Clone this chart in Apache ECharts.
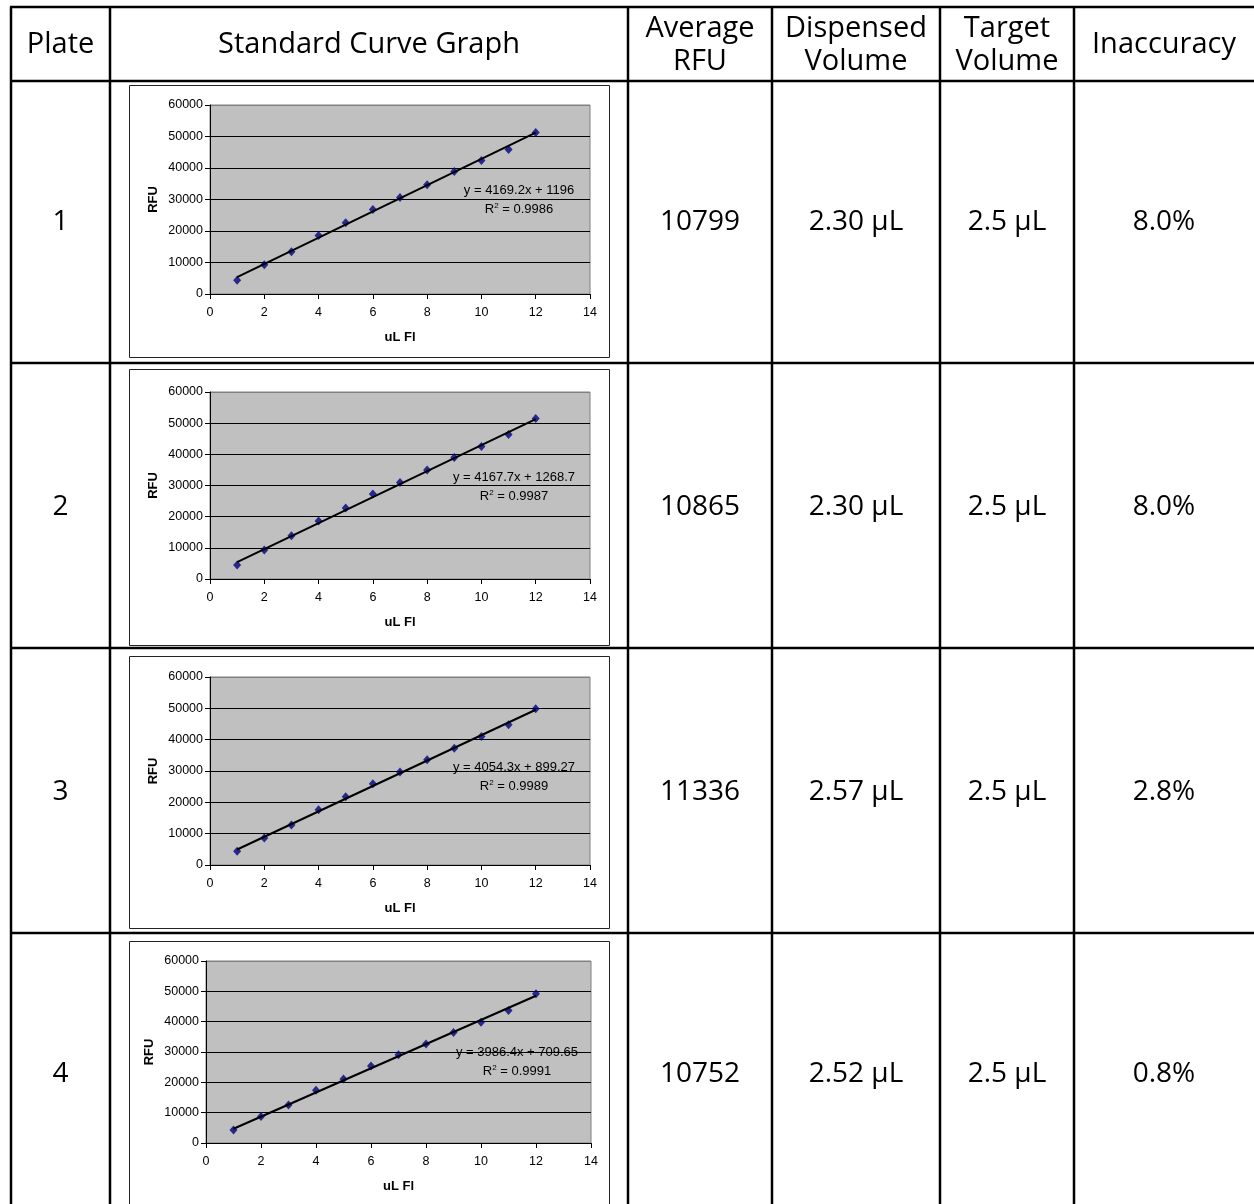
<!DOCTYPE html>
<html><head><meta charset="utf-8">
<script src="https://cdn.jsdelivr.net/npm/echarts@6/dist/echarts.min.js"></script>
<style>html,body{margin:0;padding:0;background:#fff}#c{width:1254px;height:1204px}</style>
</head><body><div id="c"></div>
<script>
// ---------------- data ----------------
const headers = ['Plate', 'Standard Curve Graph', 'Average\nRFU', 'Dispensed\nVolume', 'Target\nVolume', 'Inaccuracy'];
const plates = ['1', '2', '3', '4'];
const xValues = [1, 2, 3, 4, 5, 6, 7, 8, 9, 10, 11, 12];
const rfuPlate1 = [4400, 9300, 13400, 18600, 22600, 26800, 30600, 34700, 38900, 42400, 45900, 51300];
const rfuPlate2 = [4500, 9300, 13900, 18600, 22800, 27300, 31000, 35000, 39000, 42500, 46400, 51500];
const rfuPlate3 = [4400, 8600, 12800, 17600, 21800, 25900, 29700, 33600, 37300, 41000, 44800, 49900];
const rfuPlate4 = [4300, 8700, 12500, 17400, 21100, 25400, 29100, 32600, 36400, 39800, 43700, 49200];
const trendPlate1 = [[1, 5370], [12, 51230]];
const trendPlate2 = [[1, 5440], [12, 51280]];
const trendPlate3 = [[1, 4950], [12, 49550]];
const trendPlate4 = [[1, 4700], [12, 48550]];
const equations = ['y = 4169.2x + 1196', 'y = 4167.7x + 1268.7', 'y = 4054.3x + 899.27', 'y = 3986.4x + 709.65'];
const rSquared = ['0.9986', '0.9987', '0.9989', '0.9991'];
const averageRfu = ['10799', '10865', '11336', '10752'];
const dispensedVolume = ['2.30 µL', '2.30 µL', '2.57 µL', '2.52 µL'];
const targetVolume = ['2.5 µL', '2.5 µL', '2.5 µL', '2.5 µL'];
const inaccuracy = ['8.0%', '8.0%', '2.8%', '0.8%'];
const xAxisName = 'uL Fl';
const yAxisName = 'RFU';

// ---------------- layout ----------------
const rfuSeries = [rfuPlate1, rfuPlate2, rfuPlate3, rfuPlate4];
const trendSeries = [trendPlate1, trendPlate2, trendPlate3, trendPlate4];
const colX = [11, 110, 628, 772, 940, 1074, 1254];
const rowY = [7, 81, 363, 648, 933];
const rowTextY = [222, 507, 792, 1074];
const grids = [
  {left: 210, top: 105, width: 380, height: 189},
  {left: 210, top: 392, width: 380, height: 187},
  {left: 210, top: 677, width: 380, height: 188},
  {left: 206, top: 961, width: 385, height: 182}
];
const boxes = [
  {x: 129, y: 85, w: 480, h: 272},
  {x: 129, y: 369, w: 480, h: 276},
  {x: 129, y: 656, w: 480, h: 272},
  {x: 129, y: 941, w: 480, h: 280}
];
const eqPos = [
  {x: 519, y: 190, y2: 209},
  {x: 514, y: 477, y2: 496},
  {x: 514, y: 767, y2: 786},
  {x: 517, y: 1052, y2: 1071}
];

const TABLE_FONT = '"Open Sans", "Noto Sans", sans-serif';
const CHART_FONT = '"Liberation Sans", Arial, sans-serif';

const graphic = [];
boxes.forEach(b => graphic.push({type: 'rect', shape: {x: b.x + 0.5, y: b.y + 0.5, width: b.w, height: b.h},
  style: {fill: '#fff', stroke: '#222', lineWidth: 1}, z: -10}));
rowY.forEach(y => graphic.push({type: 'line', shape: {x1: colX[0] - 1, y1: y, x2: 1254, y2: y},
  style: {stroke: '#000', lineWidth: 2.5}, z: 10}));
colX.slice(0, 6).forEach(x => graphic.push({type: 'line', shape: {x1: x, y1: rowY[0], x2: x, y2: 1204},
  style: {stroke: '#000', lineWidth: 2.5}, z: 10}));
headers.forEach((h, i) => {
  const cx = (colX[i] + colX[i + 1]) / 2;
  graphic.push({type: 'text', x: cx, y: 45, z: 10,
    style: {text: h, align: 'center', verticalAlign: 'middle', font: '29px ' + TABLE_FONT, fill: '#000', lineHeight: 33}});
});
const cols = [plates, null, averageRfu, dispensedVolume, targetVolume, inaccuracy];
cols.forEach((arr, i) => {
  if (!arr) return;
  const cx = (colX[i] + colX[i + 1]) / 2;
  arr.forEach((t, r) => graphic.push({type: 'text', x: cx, y: rowTextY[r], z: 10,
    style: {text: t, align: 'center', verticalAlign: 'middle', font: '28px ' + TABLE_FONT, fill: '#000'}}));
});
eqPos.forEach((p, i) => {
  graphic.push({type: 'text', x: p.x, y: p.y, z: 20,
    style: {text: equations[i], align: 'center', verticalAlign: 'middle', font: '13px ' + CHART_FONT, fill: '#000'}});
  graphic.push({type: 'text', x: p.x, y: p.y2, z: 20,
    style: {text: 'R{s|2} = ' + rSquared[i], align: 'center', verticalAlign: 'middle', font: '13px ' + CHART_FONT, fill: '#000',
      rich: {s: {fontSize: 8, verticalAlign: 'top', padding: [0, 0, 6, 0], fontFamily: CHART_FONT}}}});
});

const xAxes = grids.map((g, i) => ({
  type: 'value', gridIndex: i, min: 0, max: 14, interval: 2,
  name: xAxisName, nameLocation: 'middle', nameGap: 37,
  nameTextStyle: {fontFamily: CHART_FONT, fontSize: 13, fontWeight: 'bold', color: '#000'},
  axisLine: {show: true, onZero: false, lineStyle: {color: '#000', width: 1}},
  axisTick: {show: true, inside: false, length: 5, lineStyle: {color: '#000'}},
  axisLabel: {margin: 12, fontFamily: CHART_FONT, fontSize: 12.5, color: '#000'},
  splitLine: {show: false}
}));
const yAxes = grids.map((g, i) => ({
  type: 'value', gridIndex: i, min: 0, max: 60000, interval: 10000,
  name: yAxisName, nameLocation: 'middle', nameGap: 50, nameRotate: 90,
  nameTextStyle: {fontFamily: CHART_FONT, fontSize: 13, fontWeight: 'bold', color: '#000'},
  axisLine: {show: true, lineStyle: {color: '#000', width: 1}},
  axisTick: {show: true, inside: false, length: 5, lineStyle: {color: '#000'}},
  axisLabel: {margin: 7, fontFamily: CHART_FONT, fontSize: 12.5, color: '#000', formatter: v => String(v)},
  splitLine: {show: true, lineStyle: {color: ['#000', '#000', '#000', '#000', '#000', '#000', '#808080'], width: 1}}
}));
const series = [];
rfuSeries.forEach((vals, i) => {
  series.push({type: 'scatter', xAxisIndex: i, yAxisIndex: i, symbol: 'diamond', symbolSize: [8, 9],
    itemStyle: {color: '#000080'}, data: xValues.map((x, k) => [x, vals[k]]), silent: true, z: 3});
  series.push({type: 'line', xAxisIndex: i, yAxisIndex: i, showSymbol: false, symbol: 'none',
    lineStyle: {color: '#000', width: 2}, data: trendSeries[i], silent: true, z: 4});
});

const chart = echarts.init(document.getElementById('c'), null, {renderer: 'canvas'});
chart.setOption({
  animation: false,
  backgroundColor: '#fff',
  grid: grids.map(g => Object.assign({show: true, backgroundColor: '#c0c0c0', borderColor: '#808080', borderWidth: 1}, g)),
  xAxis: xAxes,
  yAxis: yAxes,
  series: series,
  graphic: graphic
});
</script></body></html>
